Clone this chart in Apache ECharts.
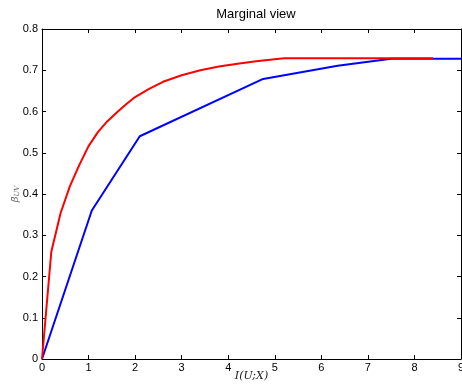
<!DOCTYPE html>
<html><head><meta charset="utf-8">
<script src="https://cdn.jsdelivr.net/npm/echarts@6/dist/echarts.min.js"></script>
<style>html,body{margin:0;padding:0;background:#fff}#c{width:462px;height:385px}</style>
</head><body><div id="c"></div>
<script>
const titleText = 'Marginal view';
const xTicks = [0,1,2,3,4,5,6,7,8,9];
const yTicks = [0,0.1,0.2,0.3,0.4,0.5,0.6,0.7,0.8];
const blueX = [0, 1.07, 2.1, 4.75, 6.35, 7.5, 9];
const blueY = [0, 0.36, 0.54, 0.679, 0.711, 0.728, 0.728];
const redX = [0,0.2,0.4,0.6,0.8,1.0,1.2,1.4,1.6,1.8,2.0,2.3,2.6,3.0,3.4,3.8,4.2,4.6,5.2,8.4];
const redY = [0,0.26,0.354,0.419,0.47,0.516,0.55,0.576,0.597,0.617,0.635,0.655,0.672,0.688,0.70,0.709,0.716,0.722,0.729,0.729];

const zip = (a,b)=>a.map((v,i)=>[v,b[i]]);
const chart = echarts.init(document.getElementById('c'), null, {renderer:'canvas'});
const axisCommon = {
  axisLine:{show:true,onZero:false,lineStyle:{color:'#000',width:1}},
  axisTick:{show:true,inside:true,length:4,lineStyle:{color:'#000'}},
  splitLine:{show:false}
};
chart.setOption({
  animation:false,
  backgroundColor:'#fff',
  title:{text:titleText,left:251,textAlign:'center',top:3,textStyle:{fontFamily:'Liberation Sans, Arial',fontSize:13,fontWeight:'normal',color:'#000'}},
  grid:{left:42,right:1,top:29,bottom:26,containLabel:false,outerBoundsMode:'none'},
  xAxis:[
    Object.assign({type:'value',min:0,max:9,interval:1,position:'bottom',
      name:'I(U;X)',nameLocation:'middle',nameGap:12,nameMoveOverlap:false,
      nameTextStyle:{fontFamily:'DejaVu Serif, Liberation Serif, serif',fontStyle:'italic',fontSize:11,color:'#222'},
      axisLabel:{show:true,color:'#000',fontFamily:'Liberation Sans, Arial',fontSize:11,margin:3,formatter:v=>String(v)}},axisCommon),
    Object.assign({type:'value',min:0,max:9,interval:1,position:'top',axisLabel:{show:false}},axisCommon)
  ],
  yAxis:[
    Object.assign({type:'value',min:0,max:0.8,interval:0.1,position:'left',
      name:'{b|β̄}{s|UV}',nameLocation:'middle',nameGap:21,nameRotate:90,nameMoveOverlap:false,
      nameTextStyle:{rich:{b:{fontFamily:'DejaVu Serif, serif',fontStyle:'italic',fontSize:10,color:'#666'},s:{fontFamily:'DejaVu Serif, serif',fontStyle:'italic',fontSize:7,color:'#666',verticalAlign:'bottom',padding:[4,0,0,0]}}},
      axisLabel:{show:true,color:'#000',fontFamily:'Liberation Sans, Arial',fontSize:11,margin:4,formatter:v=>v===0?'0':v.toFixed(1)}},axisCommon),
    Object.assign({type:'value',min:0,max:0.8,interval:0.1,position:'right',axisLabel:{show:false}},axisCommon)
  ],
  series:[
    {type:'line',data:zip(blueX,blueY),showSymbol:false,lineStyle:{color:'#0000ff',width:2},itemStyle:{color:'#0000ff'},z:2},
    {type:'line',data:zip(redX,redY),showSymbol:false,lineStyle:{color:'#ff0000',width:2},itemStyle:{color:'#ff0000'},z:3}
  ]
});
</script></body></html>
